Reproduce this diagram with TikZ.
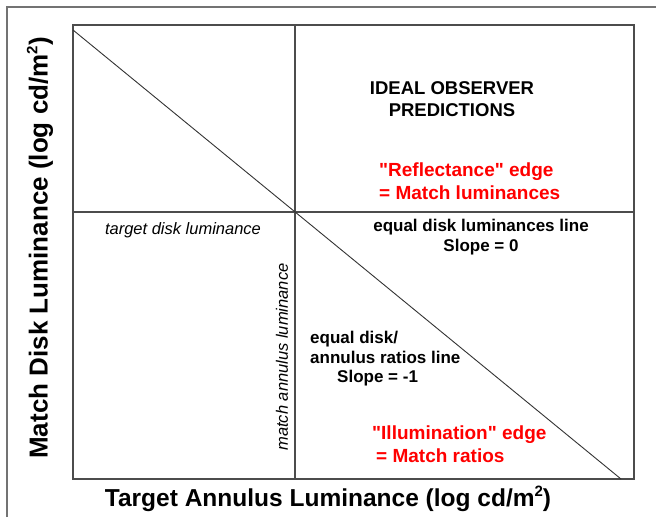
\documentclass[tikz,border=0pt]{standalone}
\usepackage{fontspec}
\setmainfont{Liberation Sans}

\tikzset{
  frame/.style={draw=black!70, line width=1.2pt},
  outer/.style={draw=black!55, line width=1.6pt},
  diag/.style={draw=black!80, line width=0.9pt},
  lbl/.style={font=\fontsize{17}{19.5}\selectfont\bfseries},
  title/.style={font=\fontsize{18.5}{22}\selectfont\bfseries, align=center},
  redlbl/.style={font=\fontsize{19}{22.5}\selectfont\bfseries, text=red, align=left, anchor=west},
  axislbl/.style={font=\fontsize{24.5}{28}\selectfont\bfseries},
  itlbl/.style={font=\fontsize{16.5}{19}\selectfont\itshape}
}
\newcommand{\qt}[1]{\textquotedbl#1\textquotedbl}
\newcommand{\sqm}{m\raisebox{0.75ex}{\fontsize{15}{15}\selectfont 2}}

\begin{document}
\begin{tikzpicture}[x=1pt, y=-1pt, every node/.style={inner sep=0pt}]
  \useasboundingbox (0,0) rectangle (656,517);
  % page frame, cut off at right and bottom
  \draw[outer] (7,517) -- (7,7) -- (656,7);
  \coordinate (nw) at (73,25);
  \coordinate (se) at (634,479);
  \coordinate (o) at (295,212);
  \draw[frame] (nw) rectangle (se);
  \draw[frame] (o |- nw) -- (o |- se);
  \draw[frame] (o -| nw) -- (o -| se);
  \coordinate (dtop) at (73,30);
  \coordinate (dbot) at (621,479);
  \draw[diag] (dtop) -- (dbot);
  \node[title] (ideal) at (452,99) {IDEAL OBSERVER\\PREDICTIONS};
  \node[redlbl] (refl) at (379,181) {\qt{Reflectance} edge\\= Match luminances};
  \node[lbl, align=center] (eqlum) at (481,237) {equal disk luminances line\\Slope = 0};
  \node[lbl, align=left, anchor=west] (eqrat) at (310,359) {equal disk/\\annulus ratios line\\\hspace*{27pt}Slope = -1};
  \node[redlbl] (illum) at (372,444) {\qt{Illumination} edge\\\hspace*{4pt}= Match ratios};
  \node[itlbl] (tdisk) at (183,230) {target disk luminance};
  \node[itlbl, rotate=90] (mann) at (282,357) {match annulus luminance};
  \node[axislbl] (xlab) at (328,499) {Target Annulus Luminance (log cd/\sqm)};
  \node[axislbl, rotate=90, font=\fontsize{26}{30}\selectfont\bfseries] (ylab) at (40,248) {Match Disk Luminance (log cd/\sqm)};
\end{tikzpicture}
\end{document}
